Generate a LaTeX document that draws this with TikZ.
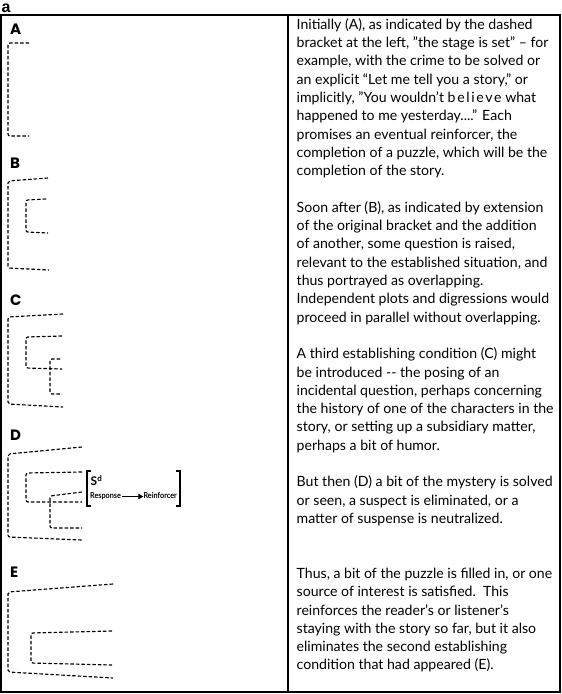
\documentclass[tikz,border=0pt]{standalone}
\usepackage{fontspec}
\setmainfont{Lato}
\newfontfamily\labelfont{Poppins}
\newfontfamily\afont{Liberation Sans}
\usetikzlibrary{arrows.meta}
\begin{document}
\begin{tikzpicture}[x=1pt,y=-1pt,
  brk/.style={draw=black, line width=1.15pt, dash pattern=on 3.5pt off 2pt, rounded corners=2pt},
  panel/.style={draw=black, line width=1.2pt},
  stagelabel/.style={anchor=base west, inner sep=0pt, font=\labelfont\bfseries\fontsize{15}{15}\selectfont},
  smalltext/.style={inner sep=0pt, font=\bfseries\fontsize{8.2}{8.2}\selectfont},
  sidebrk/.style={draw=black, line width=1.3pt}
]
\useasboundingbox (0,0) rectangle (562,694);
% panels
\draw[panel] (1,15) rectangle (560,692);
\draw[panel] (288,15) -- (288,692);
\node[anchor=base west, inner sep=0pt, font=\afont\bfseries\fontsize{16}{16}\selectfont] (lbla) at (1.5,12) {a};
% stage labels
\node[stagelabel] (lA) at (10,34) {A};
\node[stagelabel] (lB) at (10,168) {B};
\node[stagelabel] (lC) at (10,305) {C};
\node[stagelabel] (lD) at (10,440) {D};
\node[stagelabel] (lE) at (10,577) {E};
% A
\draw[brk] (29,43) -- (8,43) -- (8,136) -- (29,136);
% B
\draw[brk] (48,178) -- (8,181) -- (8,268) -- (49,270);
\draw[brk] (46,199) -- (26,200) -- (26,232) -- (48,233);
% C
\draw[brk] (63,314) -- (8,317) -- (8,404) -- (63,407);
\draw[brk] (62,336) -- (26,337) -- (26,368) -- (62,369);
\draw[brk] (60,359) -- (50,359) -- (50,394) -- (62,394);
% D
\draw[brk] (82,447) -- (8,454) -- (8,537) -- (82,540);
\draw[brk] (82,472) -- (26,473) -- (26,502) -- (82,502);
\draw[brk] (82,492) -- (50,496) -- (50,528) -- (82,528);
\draw[sidebrk] (91,471) -- (87,471) -- (87,506) -- (91,506);
\draw[sidebrk] (176,471) -- (180,471) -- (180,506) -- (176,506);
\node[anchor=base west, inner sep=0pt, font=\bfseries\fontsize{12}{12}\selectfont] (sd) at (90.5,485.5) {S\raisebox{4pt}{\fontsize{8}{8}\selectfont d}};
\node[smalltext, anchor=base west] (resp) at (90,498) {\scalebox{0.88}[1]{Response}};
\node[smalltext, anchor=base east] (reinf) at (177,498) {\scalebox{0.88}[1]{Reinforcer}};
\draw[line width=1.5pt, -{Triangle[length=5pt,width=5.5pt]}] (resp.east) ++(1pt,-0.8pt) coordinate (ra) -- (ra -| reinf.west);
% E
\draw[brk] (113,584) -- (8,592) -- (8,672) -- (113,678);
\draw[brk] (112,631) -- (31,633) -- (31,663) -- (112,665);
% text
\node[anchor=north west, inner sep=0pt, align=left, font=\fontsize{14.1}{18.31}\selectfont] (txt) at (296.5,18) {%
Initially (A), as indicated by the dashed\\
bracket at the left, ”the stage is set” – for\\
example, with the crime to be solved or\\
an explicit “Let me tell you a story,” or\\
implicitly, ”You wouldn’t {\addfontfeature{LetterSpace=12}believe} what\\
happened to me yesterday....” Each\\
promises an eventual reinforcer, the\\
completion of a puzzle, which will be the\\
completion of the story.\\[18.31pt]
Soon after (B), as indicated by extension\\
of the original bracket and the addition\\
of another, some question is raised,\\
relevant to the established situation, and\\
thus portrayed as overlapping.\\
Independent plots and digressions would\\
proceed in parallel without overlapping.\\[18.31pt]
A third establishing condition (C) might\\
be introduced -{}- the posing of an\\
incidental question, perhaps concerning\\
the history of one of the characters in the\\
story, or setting up a subsidiary matter,\\
perhaps a bit of humor.\\[18.31pt]
But then (D) a bit of the mystery is solved\\
or seen, a suspect is eliminated, or a\\
matter of suspense is neutralized.\\[36.62pt]
Thus, a bit of the puzzle is filled in, or one\\
source of interest is satisfied.\ \ This\\
reinforces the reader’s or listener’s\\
staying with the story so far, but it also\\
eliminates the second establishing\\
condition that had appeared (E).};
\end{tikzpicture}
\end{document}
